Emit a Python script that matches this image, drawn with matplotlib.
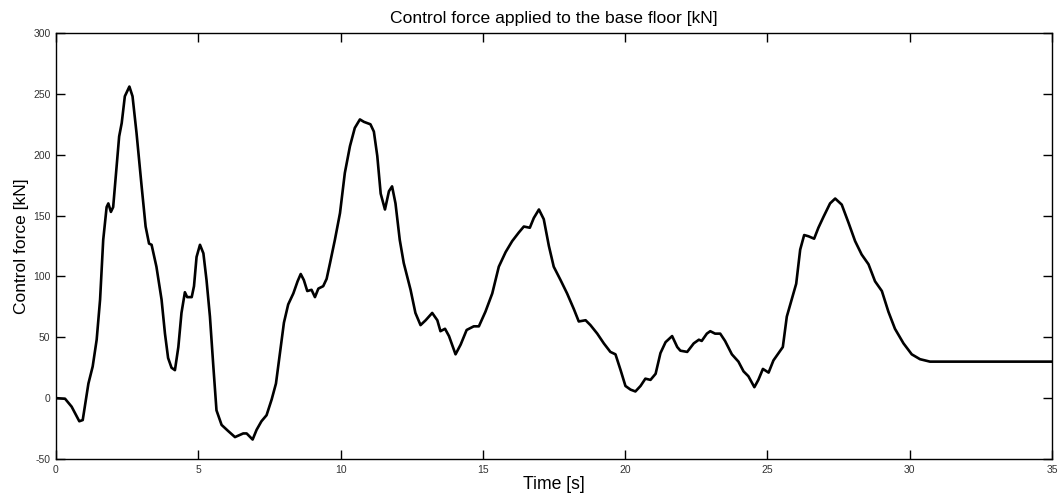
import numpy as np
import matplotlib
matplotlib.use('Agg')
import matplotlib.pyplot as plt

# digitised control force history
time_s = [0.00, 0.32, 0.55, 0.82, 0.94, 1.14, 1.29, 1.43, 1.55, 1.66, 1.78, 1.84, 1.93, 2.01,
          2.13, 2.22, 2.31, 2.42, 2.58, 2.69, 2.83, 3.01, 3.15, 3.27, 3.36, 3.53, 3.71, 3.83,
          3.94, 4.06, 4.18, 4.30, 4.41, 4.53, 4.61, 4.77, 4.85, 4.94, 5.06, 5.18, 5.29, 5.41,
          5.53, 5.64, 5.82, 6.05, 6.29, 6.58, 6.70, 6.91, 7.05, 7.22, 7.40, 7.58, 7.73, 7.87,
          8.01, 8.16, 8.34, 8.49, 8.60, 8.71, 8.83, 8.98, 9.10, 9.22, 9.39, 9.51, 9.63, 9.80,
          9.98, 10.15, 10.33, 10.50, 10.68, 10.82, 11.05, 11.17, 11.29, 11.41, 11.56, 11.70,
          11.81, 11.93, 12.08, 12.22, 12.46, 12.63, 12.81, 12.99, 13.22, 13.40, 13.51, 13.67,
          13.81, 14.04, 14.22, 14.43, 14.68, 14.86, 15.09, 15.33, 15.56, 15.80, 16.03, 16.26,
          16.44, 16.65, 16.79, 16.97, 17.14, 17.32, 17.49, 17.73, 17.96, 18.20, 18.37, 18.61,
          18.78, 19.02, 19.25, 19.48, 19.66, 19.84, 20.01, 20.19, 20.36, 20.54, 20.71, 20.89,
          21.07, 21.24, 21.42, 21.65, 21.83, 21.94, 22.18, 22.41, 22.59, 22.69, 22.87, 22.99,
          23.16, 23.34, 23.51, 23.75, 23.98, 24.16, 24.33, 24.54, 24.68, 24.84, 25.04, 25.21,
          25.39, 25.54, 25.68, 25.85, 26.01, 26.15, 26.29, 26.44, 26.64, 26.79, 26.97, 27.20,
          27.38, 27.61, 27.85, 28.08, 28.31, 28.55, 28.78, 29.02, 29.25, 29.48, 29.78, 30.07,
          30.36, 30.71, 31.18, 35.00]
force_kn = [0, -0.5, -7, -19, -18, 12, 26, 48, 81, 130, 157, 160, 153, 157,
            190, 215, 226, 248, 256, 248, 218, 174, 141, 127, 126, 108, 81, 53,
            33, 25, 23, 42, 70, 87, 83, 83, 92, 116, 126, 119, 97, 67,
            26, -10, -22, -27, -32, -29, -29, -34, -26, -19, -14, -1, 12, 37,
            62, 77, 86, 96, 102, 97, 88, 89, 83, 90, 92, 98, 111, 130,
            152, 185, 207, 222, 229, 227, 225, 219, 199, 168, 155, 170,
            174, 160, 130, 111, 89, 70, 60, 64, 70, 64, 55, 57,
            51, 36, 44, 56, 59, 59, 71, 86, 108, 120, 129, 136,
            141, 140, 148, 155, 147, 125, 108, 97, 86, 73, 63, 64,
            60, 53, 45, 38, 36, 23, 10, 7, 5.5, 10, 16, 15,
            20, 37, 46, 51, 42, 39, 38, 45, 48, 47, 53, 55,
            53, 53, 47, 36, 30, 22, 18, 9, 15, 24, 21, 31,
            37, 42, 67, 81, 94, 122, 134, 133, 131, 140, 149, 160,
            164, 159, 144, 129, 118, 110, 96, 88, 71, 57, 45, 36,
            32, 30, 30, 30]

x_ticks = [0, 5, 10, 15, 20, 25, 30, 35]
y_ticks = [-50, 0, 50, 100, 150, 200, 250, 300]

plt.rcParams['font.family'] = ['Liberation Sans', 'DejaVu Sans']
plt.rcParams['axes.unicode_minus'] = False

fig = plt.figure(figsize=(10.6, 5.0), dpi=100)
ax = fig.add_axes([0.0528, 0.082, 0.9397, 0.852])

ax.plot(time_s, force_kn, color='black', linewidth=1.9,
        solid_joinstyle='round', solid_capstyle='round')

ax.set_xlim(0, 35)
ax.set_ylim(-50, 300)
ax.set_xticks(x_ticks)
ax.set_yticks(y_ticks)
ax.tick_params(direction='in', length=6.5, width=1.0, top=True, right=True,
               labelsize=7.5, labelcolor='#333333', pad=4)
for s in ax.spines.values():
    s.set_linewidth(1.0)

ax.set_title('Control force applied to the base floor [kN]', fontsize=12.6, pad=7)
ax.set_xlabel('Time [s]', fontsize=12.7, labelpad=1)
ax.set_ylabel('Control force [kN]', fontsize=12.5, labelpad=3)

fig.savefig('out.png', dpi=100)
